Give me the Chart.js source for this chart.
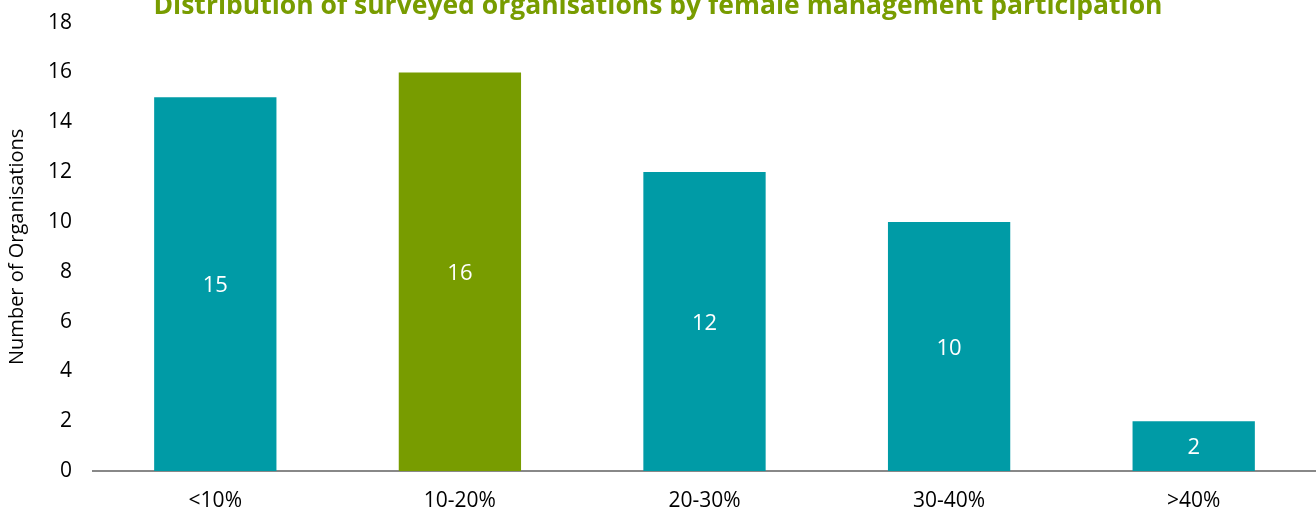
<!DOCTYPE html>
<html>
<head>
<meta charset="utf-8">
<script src="https://cdn.jsdelivr.net/npm/chart.js@4.4.1/dist/chart.umd.min.js"></script>
<style>
  html, body { margin: 0; padding: 0; background: #fff; }
  #marco { position: relative; width: 1316px; height: 513px; overflow: hidden; }
  #lienzo { position: absolute; left: 0; top: -11px; width: 1316px; height: 524px; }
</style>
</head>
<body>
<div id="marco"><div id="lienzo"><canvas id="grafico"></canvas></div></div>
<script>
const categorias = ['<10%', '10-20%', '20-30%', '30-40%', '>40%'];
const organizaciones = [15, 16, 12, 10, 2];
const colores = ['#009BA6', '#789C00', '#009BA6', '#009BA6', '#009BA6'];
const titulo = 'Distribution of surveyed organisations by female management participation';
const tituloEjeY = 'Number of Organisations';

const FUENTE = '"Open Sans", "DejaVu Sans", sans-serif';

// etiquetas blancas en el centro de cada barra
const etiquetasBarras = {
    id: 'etiquetasBarras',
    afterDatasetsDraw(chart) {
        const ctx = chart.ctx;
        const meta = chart.getDatasetMeta(0);
        ctx.save();
        ctx.fillStyle = '#ffffff';
        ctx.font = '22px ' + FUENTE;
        ctx.textAlign = 'center';
        ctx.textBaseline = 'middle';
        meta.data.forEach((barra, i) => {
            const valor = chart.data.datasets[0].data[i];
            ctx.fillText(String(valor), barra.x, (barra.y + barra.base) / 2 + 2);
        });
        ctx.restore();
    }
};

const ctx = document.getElementById('grafico').getContext('2d');
const grafico = new Chart(ctx, {
    type: 'bar',
    data: {
        labels: categorias,
        datasets: [{
            label: tituloEjeY,
            data: organizaciones,
            backgroundColor: colores,
            borderWidth: 0,
            barPercentage: 0.5,
            categoryPercentage: 1.0
        }]
    },
    options: {
        responsive: true,
        maintainAspectRatio: false,
        animation: false,
        layout: { padding: { left: 0, right: 0, top: 0, bottom: 0 } },
        plugins: {
            legend: { display: false },
            tooltip: { enabled: false },
            title: {
                display: true,
                text: titulo,
                color: '#789C00',
                font: { family: FUENTE, size: 26.5, weight: 'bold' },
                padding: { top: 1, bottom: 0 }
            }
        },
        scales: {
            x: {
                grid: { display: false, drawTicks: false },
                border: { display: true, color: '#888888', width: 2 },
                ticks: { color: '#000', font: { family: FUENTE, size: 21 }, padding: 17, maxRotation: 0 },
                afterFit(escala) { escala.height = 42; }
            },
            y: {
                min: 0,
                max: 18,
                grid: { display: false, drawTicks: false },
                border: { display: false },
                ticks: { stepSize: 2, color: '#000', font: { family: FUENTE, size: 21 }, padding: 21 },
                title: {
                    display: true,
                    text: tituloEjeY,
                    color: '#000',
                    font: { family: FUENTE, size: 20 },
                    padding: { top: 5, bottom: 0 }
                },
                afterFit(escala) { escala.width = 93; }
            }
        }
    },
    plugins: [etiquetasBarras]
});
</script>
</body>
</html>
